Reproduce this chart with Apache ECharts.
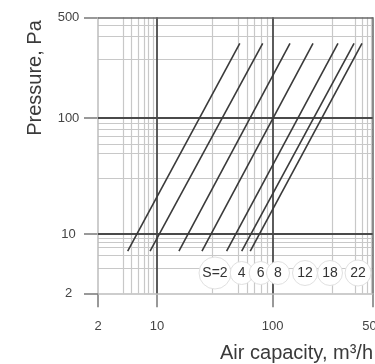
<!DOCTYPE html>
<html>
<head>
<meta charset="utf-8">
<script src="https://cdn.jsdelivr.net/npm/echarts@6/dist/echarts.min.js"></script>
<style>
html,body{margin:0;padding:0;background:#fff;}
#c{width:375px;height:364px;}
</style>
</head>
<body>
<div id="c"></div>
<script>
// ---- data ----
const tickValues = [2, 10, 100, 500];
const tickLabels = ['2', '10', '100', '500'];
const xMinor = [4, 5, 6, 7, 8, 9, 30, 50, 60, 70, 80, 90, 262, 375, 420, 455, 485];
const yMinor = [4, 5.6, 7, 8, 9, 30, 50, 60, 70, 80, 90, 256, 367, 442];
const seriesNames = ['S=2', '4', '6', '8', '12', '18', '22'];
const qLow  = [4.5, 8.3, 15.5, 24.5, 40, 54, 64];
const qHigh = [52, 82, 132, 191, 285, 369, 419];
const pLow  = [6.3, 6.3, 6.3, 6.3, 6.3, 6.3, 6.3];
const pHigh = [330, 330, 330, 330, 330, 330, 330];

// piecewise logarithmic scale of the printed chart (decades are not equally long)
const KNOTS = [[Math.log10(2), 0], [1, 59], [2, 175], [Math.log10(500), 275.5]];
function T(v) {
  const lg = Math.log10(v);
  for (let i = 0; i < KNOTS.length - 1; i++) {
    const a = KNOTS[i], b = KNOTS[i + 1];
    if (lg <= b[0] || i === KNOTS.length - 2) {
      return a[1] + (lg - a[0]) / (b[0] - a[0]) * (b[1] - a[1]);
    }
  }
}
const tickPos = tickValues.map(T);
function labelFor(v) {
  for (let i = 0; i < tickPos.length; i++) if (Math.abs(tickPos[i] - v) < 0.01) return tickLabels[i];
  return '';
}

const FONT = 'Liberation Sans, Arial, Helvetica, sans-serif';
const majorStyle = {
  2: { color: '#bdbdbd', width: 1.5 },
  10: { color: '#4a4a4a', width: 1.8 },
  100: { color: '#4a4a4a', width: 1.8 },
  500: { color: '#666', width: 1.5 }
};
const minorStyle = { color: '#c8c8c8', width: 1.2, type: 'solid' };

const gridLines = [];
xMinor.forEach(v => gridLines.push({ xAxis: T(v), lineStyle: minorStyle }));
yMinor.forEach(v => gridLines.push({ yAxis: T(v), lineStyle: minorStyle }));
tickValues.forEach(v => {
  gridLines.push({ xAxis: T(v), lineStyle: Object.assign({ type: 'solid' }, majorStyle[v]) });
  gridLines.push({ yAxis: T(v), lineStyle: Object.assign({ type: 'solid' }, majorStyle[v]) });
});

const curves = seriesNames.map((n, i) => ({
  name: n,
  type: 'line',
  zlevel: 1,
  z: 3,
  silent: true,
  showSymbol: false,
  symbol: 'none',
  animation: false,
  clip: false,
  lineStyle: { color: '#3a3a3a', width: 1.6, type: 'solid' },
  data: [[T(qLow[i]), T(pLow[i])], [T(qHigh[i]), T(pHigh[i])]]
}));

const axisCommon = {
  type: 'value',
  min: 0,
  max: T(500),
  axisLine: { show: false },
  splitLine: { show: false },
  axisTick: {
    show: true,
    customValues: tickPos,
    length: 14,
    lineStyle: { color: '#777', width: 1.5, type: 'solid' }
  }
};

// label chips (S values) and axis titles
const chipX = [215, 241.7, 260.7, 278, 305, 330, 358];
const chipR = [16, 11.5, 11.5, 11.5, 12.5, 12.5, 13];
const graphic = [];
seriesNames.forEach((n, i) => {
  graphic.push({
    type: 'circle', z: 10,
    shape: { cx: chipX[i], cy: 273, r: chipR[i] },
    style: { fill: '#fff', stroke: '#e0e0e0', lineWidth: 1 }
  });
});
seriesNames.forEach((n, i) => {
  graphic.push({
    type: 'text', z: 11, x: chipX[i], y: 273,
    style: { text: n, fill: '#333', font: '14px ' + FONT, textAlign: 'center', textVerticalAlign: 'middle' }
  });
});
graphic.push({
  type: 'text', z: 11, x: 35, y: 78, rotation: Math.PI / 2,
  style: { text: 'Pressure, Pa', fill: '#3a3a3a', font: '20px ' + FONT, textAlign: 'center', textVerticalAlign: 'middle' }
});
graphic.push({
  type: 'text', z: 11, x: 373, y: 353,
  style: { text: 'Air capacity, m³/h', fill: '#3a3a3a', font: '20px ' + FONT, textAlign: 'right', textVerticalAlign: 'middle' }
});

const option = {
  animation: false,
  grid: { left: 98, right: 2, top: 17.3, bottom: 70.7, containLabel: false, outerBoundsMode: 'none' },
  xAxis: Object.assign({}, axisCommon, {
    axisLabel: {
      customValues: tickPos,
      formatter: labelFor,
      margin: 27,
      fontSize: 13,
      color: '#444',
      fontFamily: FONT,
      showMinLabel: true,
      showMaxLabel: true,
      hideOverlap: false
    }
  }),
  yAxis: Object.assign({}, axisCommon, {
    axisLabel: {
      customValues: tickPos,
      formatter: labelFor,
      margin: 29.5,
      align: 'center',
      fontSize: 13,
      color: '#444',
      fontFamily: FONT,
      showMinLabel: true,
      showMaxLabel: true,
      hideOverlap: false
    }
  }),
  graphic: graphic,
  series: [{
    type: 'scatter',
    z: 1,
    silent: true,
    data: [],
    markLine: {
      silent: true,
      symbol: 'none',
      animation: false,
      label: { show: false },
      lineStyle: { type: 'solid' },
      data: gridLines
    }
  }].concat(curves)
};

const chart = echarts.init(document.getElementById('c'), null, { renderer: 'canvas' });
chart.setOption(option);
</script>
</body>
</html>
